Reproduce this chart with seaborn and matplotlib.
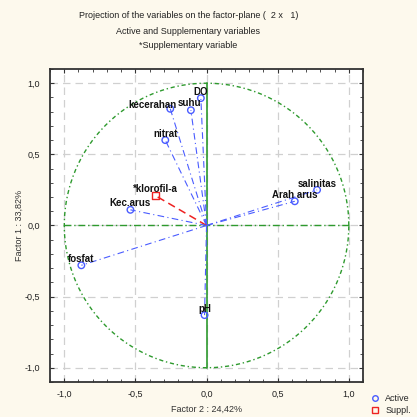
import numpy as np
import pandas as pd
import matplotlib
matplotlib.use("Agg")
import matplotlib.pyplot as plt
import seaborn as sns
from matplotlib.lines import Line2D
from matplotlib.ticker import MultipleLocator, FuncFormatter

# loadings
variables = ["DO", "suhu", "kecerahan", "nitrat", "*klorofil-a", "Kec.arus",
             "salinitas", "Arah arus", "fosfat", "pH"]
factor2 = [-0.04, -0.11, -0.255, -0.29, -0.36, -0.535, 0.777, 0.62, -0.88, -0.014]
factor1 = [0.895, 0.81, 0.82, 0.60, 0.21, 0.11, 0.25, 0.17, -0.28, -0.63]
var_type = ["Active", "Active", "Active", "Active", "Suppl.", "Active",
            "Active", "Active", "Active", "Active"]

title_lines = ["Projection of the variables on the factor-plane (  2 x   1)",
               "Active and Supplementary variables",
               "*Supplementary variable"]
xlabel = "Factor 2 : 24,42%"
ylabel = "Factor 1 : 33,82%"

df = pd.DataFrame({"var": variables, "f2": factor2, "f1": factor1, "type": var_type})

sns.set_style("white")
plt.rcParams["font.family"] = ["Liberation Sans", "DejaVu Sans"]

bg = "#fdf9ed"
blue = "#4a5cff"
red = "#ee2222"
green = "#2e9a2e"

fig = plt.figure(figsize=(4.17, 4.17), dpi=100, facecolor=bg)
ax = fig.add_axes([0.12, 0.084, 0.7506, 0.7506])
ax.set_facecolor("white")

# unit circle and axes through origin
t = np.linspace(0, 2 * np.pi, 400)
ax.plot(np.cos(t), np.sin(t), color=green, lw=1.0, ls=(0, (3, 2, 1, 2)), zorder=2)
ax.plot([0, 0], [-1, 1], color=green, lw=1.2, zorder=2)
ax.plot([-1, 1], [0, 0], color=green, lw=1.0, ls=(0, (5, 2, 1, 2)), zorder=2)

# vectors from origin
for _, r in df.iterrows():
    if r["type"] == "Active":
        ax.plot([0, r["f2"]], [0, r["f1"]], color=blue, lw=0.8,
                ls=(0, (6, 3, 1, 3)), zorder=3)
    else:
        ax.plot([0, r["f2"]], [0, r["f1"]], color=red, lw=1.1,
                ls=(0, (5, 3)), zorder=3)

sns.scatterplot(data=df, x="f2", y="f1", hue="type", style="type",
                palette={"Active": blue, "Suppl.": red},
                markers={"Active": "o", "Suppl.": "s"},
                s=22, linewidth=1.0, legend=False, ax=ax, zorder=4)
for coll in ax.collections:
    coll.set_facecolor("none")
    coll.set_edgecolor([blue if k == "Active" else red for k in df["type"]])

label_shift = {"kecerahan": (-13, -2), "suhu": (-1, 0.5)}
for _, r in df.iterrows():
    dx, dy = label_shift.get(r["var"], (0, 0))
    ax.annotate(r["var"], (r["f2"], r["f1"]), xytext=(dx, 1 + dy),
                textcoords="offset points", ha="center", va="bottom",
                fontsize=7, fontweight="bold", color="#111111", zorder=5)

ax.set_xlim(-1.1, 1.1)
ax.set_ylim(-1.1, 1.1)
ax.xaxis.set_major_locator(MultipleLocator(0.5))
ax.yaxis.set_major_locator(MultipleLocator(0.5))
ax.xaxis.set_minor_locator(MultipleLocator(0.1))
ax.yaxis.set_minor_locator(MultipleLocator(0.1))
fmt = FuncFormatter(lambda v, p: f"{v:.1f}".replace(".", ",").replace("-0,0", "0,0"))
ax.xaxis.set_major_formatter(fmt)
ax.yaxis.set_major_formatter(fmt)
ax.tick_params(which="both", direction="in", top=True, right=True, bottom=True, left=True,
               color="#333333", labelsize=6.5, labelcolor="#222222")
ax.tick_params(which="major", length=3, width=0.8)
ax.tick_params(axis="x", which="major", pad=6)
ax.tick_params(axis="y", which="major", pad=7)
ax.tick_params(which="minor", length=2, width=0.6)
ax.grid(True, which="major", color="#d0d0d0", ls=(0, (6, 4)), lw=0.9)
ax.set_axisbelow(True)
for s in ax.spines.values():
    s.set_color("#333333")
    s.set_linewidth(1.3)

ax.set_xlabel(xlabel, fontsize=6.5, color="#333333", labelpad=4)
ax.set_ylabel(ylabel, fontsize=6.5, color="#333333", labelpad=1)

for i, line in enumerate(title_lines):
    fig.text(0.452, 1 - (16 + 15 * i) / 417, line, ha="center", va="center",
             fontsize=6.5, color="#222222")

handles = [Line2D([], [], ls="none", marker="o", mfc="none", mec=blue, ms=4, mew=1.0),
           Line2D([], [], ls="none", marker="s", mfc="none", mec=red, ms=4, mew=1.0)]
fig.legend(handles, ["Active", "Suppl."], loc="lower left", bbox_to_anchor=(0.876, -0.008),
           frameon=False, fontsize=6.5, handlelength=1.0, handletextpad=0.6,
           labelspacing=0.35, borderaxespad=0.2)

fig.savefig("out.png", dpi=100, facecolor=bg)
